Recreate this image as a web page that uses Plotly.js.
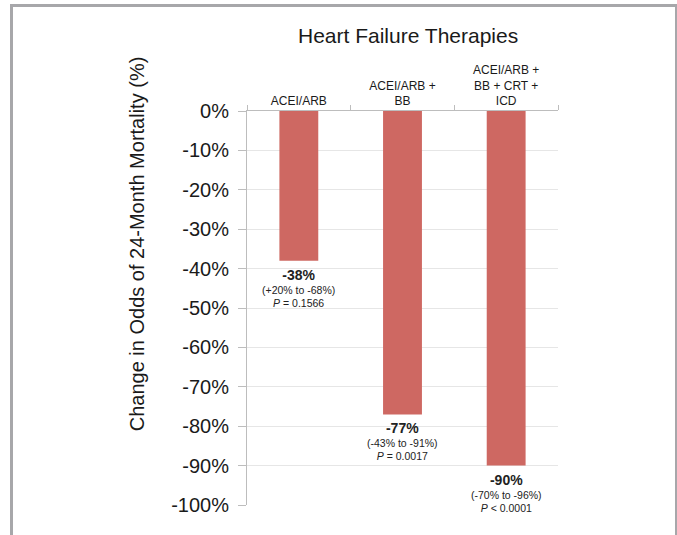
<!DOCTYPE html>
<html>
<head>
<meta charset="utf-8">
<script src="https://cdn.plot.ly/plotly-3.0.1.min.js"></script>
<style>
  html, body { margin: 0; padding: 0; background: #ffffff; }
  #wrap { position: relative; width: 677px; height: 535px; overflow: hidden; }
  #chart { position: absolute; left: 0; top: 0; width: 677px; height: 535px; }
  #frame { position: absolute; left: 10px; top: 4px; width: 662px; height: 600px;
           border: 3px solid #a7a7aa; pointer-events: none; }
</style>
</head>
<body>
<div id="wrap">
  <div id="chart"></div>
  <div id="frame"></div>
</div>
<script>
// ---- data ----
const categories = ['ACEI/ARB', 'ACEI/ARB +<br>BB', 'ACEI/ARB +<br>BB + CRT +<br>ICD'];
const changes = [-38, -77, -90];
const changeLabels = ['-38%', '-77%', '-90%'];
const ciLabels = ['(+20% to -68%)', '(-43% to -91%)', '(-70% to -96%)'];
const pLabels = ['= 0.1566', '= 0.0017', '&lt; 0.0001'];
const yTickVals = [0, -10, -20, -30, -40, -50, -60, -70, -80, -90, -100];
const yTickText = ['0%', '-10%', '-20%', '-30%', '-40%', '-50%', '-60%', '-70%', '-80%', '-90%', '-100%'];
const chartTitle = 'Heart Failure Therapies';
const yTitle = 'Change in Odds of 24-Month Mortality (%)';

const FONT = 'Liberation Sans, Arial, Helvetica, sans-serif';
const barColor = '#CE6862';

const trace = {
  type: 'bar',
  x: categories,
  y: changes,
  width: 0.375,
  marker: { color: barColor, line: { width: 0 } },
  hoverinfo: 'skip'
};

const annotations = categories.map((c, i) => ({
  x: c,
  y: changes[i],
  xref: 'x',
  yref: 'y',
  yanchor: 'top',
  xanchor: 'center',
  yshift: -4,
  showarrow: false,
  align: 'center',
  font: { family: FONT, size: 10.5, color: '#222222' },
  text: '<span style="font-size:14px"><b>' + changeLabels[i] + '</b></span><br>' +
        ciLabels[i] + '<br><i>P</i> ' + pLabels[i]
}));

// y-axis title placed as rotated annotation (shifted upward as in the original)
annotations.push({
  text: yTitle,
  xref: 'paper', yref: 'paper',
  x: -0.354, y: 0.664,
  xanchor: 'center', yanchor: 'middle',
  textangle: -90,
  showarrow: false,
  font: { family: FONT, size: 20, color: '#1a1a1a' }
});

const layout = {
  width: 677,
  height: 535,
  margin: { l: 247, r: 119, t: 110.5, b: 30, pad: 0 },
  paper_bgcolor: '#ffffff',
  plot_bgcolor: '#ffffff',
  showlegend: false,
  font: { family: FONT, color: '#1a1a1a' },
  title: {
    text: chartTitle,
    font: { family: FONT, size: 21, color: '#1a1a1a' },
    x: 0.518, xanchor: 'center', xref: 'paper',
    y: 0.934, yanchor: 'middle', yref: 'container'
  },
  xaxis: {
    type: 'category',
    side: 'top',
    showline: true,
    linecolor: '#bdbdbd',
    linewidth: 1,
    ticks: 'outside',
    tickson: 'boundaries',
    ticklen: 5,
    tickcolor: '#bdbdbd',
    showgrid: false,
    zeroline: false,
    tickfont: { family: FONT, size: 12, color: '#1a1a1a' },
    fixedrange: true
  },
  yaxis: {
    range: [-100, 0],
    tickvals: yTickVals,
    ticktext: yTickText,
    showline: true,
    linecolor: '#bdbdbd',
    linewidth: 1,
    ticks: 'outside',
    ticklen: 8,
    tickcolor: '#bdbdbd',
    ticklabelstandoff: 5,
    showgrid: true,
    gridcolor: '#e6e6e6',
    gridwidth: 1,
    zeroline: false,
    tickfont: { family: FONT, size: 20, color: '#1a1a1a' },
    fixedrange: true
  },
  annotations: annotations
};

Plotly.newPlot('chart', [trace], layout, { displayModeBar: false, staticPlot: true });
</script>
</body>
</html>
